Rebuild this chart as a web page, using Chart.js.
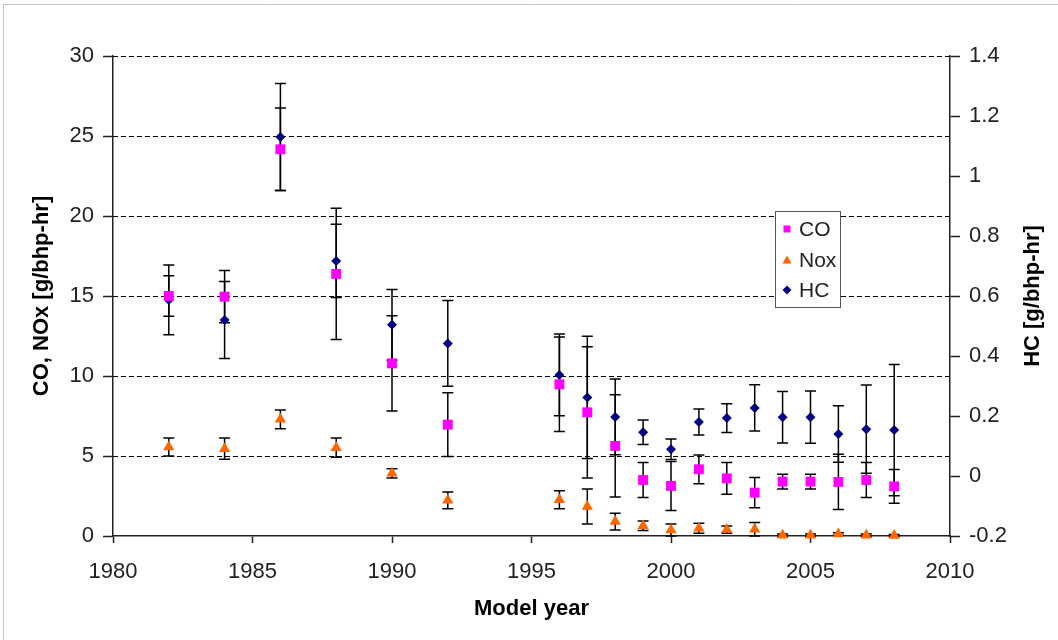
<!DOCTYPE html>
<html><head><meta charset="utf-8">
<script src="https://cdn.jsdelivr.net/npm/chart.js@4.4.0/dist/chart.umd.min.js"></script>
<style>html,body{margin:0;padding:0;background:#fff;overflow:hidden}canvas{display:block}</style>
</head><body>
<canvas id="c" width="1058" height="640"></canvas>
<script>
// ---- data ----
const years = [1982,1984,1986,1988,1990,1992,1996,1997,1998,1999,2000,2001,2002,2003,2004,2005,2006,2007,2008];
const coValues = [15.0,14.96,24.17,16.38,10.79,6.96,9.48,7.73,5.63,3.5,3.13,4.17,3.6,2.71,3.4,3.4,3.38,3.5,3.1];
const coErrors = [1.26,1.63,2.58,4.1,2.98,1.99,2.95,4.1,3.2,1.09,1.53,0.9,0.99,0.95,0.46,0.46,1.73,1.1,1.06];
const noxValues = [5.56,5.46,7.29,5.52,3.92,2.23,2.27,1.84,0.9,0.64,0.375,0.48,0.4,0.42,0.05,0.05,0.12,0.05,0.03];
const noxErrors = [0.56,0.67,0.58,0.6,0.29,0.52,0.56,1.09,0.52,0.3,0.375,0.31,0.23,0.42,0.08,0.08,0.08,0.08,0.06];
const hcValues = [0.587,0.52,1.13,0.717,0.504,0.442,0.337,0.262,0.197,0.146,0.089,0.18,0.193,0.227,0.196,0.196,0.14,0.156,0.153];
const hcErrors = [0.116,0.128,0.178,0.122,0.118,0.143,0.136,0.204,0.126,0.041,0.034,0.043,0.048,0.077,0.086,0.087,0.094,0.147,0.219];
const seriesNames = ['CO','Nox','HC'];
const xRange = [1980, 2010, 5];
const leftRange = [0, 30, 5];
const rightRange = [-0.2, 1.4, 0.2];
const xTitle = 'Model year';
const leftTitle = 'CO, NOx [g/bhp-hr]';
const rightTitle = 'HC [g/bhp-hr]';

const FONT = "'Liberation Sans', Arial, sans-serif";
Chart.defaults.font.family = FONT;
Chart.defaults.color = '#222';

const toPts = vals => years.map((x, i) => ({x: x, y: vals[i]}));

const errorBarPlugin = {
  id: 'errorBars',
  beforeDatasetsDraw(chart) {
    const ctx = chart.ctx;
    const ca = chart.chartArea;
    const ys = chart.scales.y;
    // dashed gridlines from the left axis
    ctx.save();
    ctx.strokeStyle = '#000';
    ctx.lineWidth = 1;
    ctx.setLineDash([5, 3]);
    ys.ticks.forEach(t => {
      if (t.value === leftRange[0]) return;
      const y = Math.round(ys.getPixelForValue(t.value)) + 0.5;
      ctx.beginPath(); ctx.moveTo(ca.left, y); ctx.lineTo(ca.right, y); ctx.stroke();
    });
    ctx.restore();
    // error bars
    ctx.save();
    ctx.strokeStyle = '#000';
    ctx.lineWidth = 1.5;
    chart.data.datasets.forEach((ds, i) => {
      const meta = chart.getDatasetMeta(i);
      const xs = chart.scales[meta.xAxisID];
      const yScale = chart.scales[meta.yAxisID];
      ds.data.forEach((p, j) => {
        const e = ds.errors[j];
        const x = xs.getPixelForValue(p.x);
        const y1 = yScale.getPixelForValue(p.y + e);
        const y2 = yScale.getPixelForValue(p.y - e);
        ctx.beginPath();
        ctx.moveTo(x, y1); ctx.lineTo(x, y2);
        ctx.moveTo(x - 5.5, y1); ctx.lineTo(x + 5.5, y1);
        ctx.moveTo(x - 5.5, y2); ctx.lineTo(x + 5.5, y2);
        ctx.stroke();
      });
    });
    ctx.restore();
  },
  beforeDraw(chart) {
    const ctx = chart.ctx;
    ctx.save();
    ctx.fillStyle = '#fff';
    ctx.fillRect(0, 0, chart.width, chart.height);
    ctx.strokeStyle = '#c4c4c4';
    ctx.lineWidth = 1;
    ctx.beginPath();
    ctx.moveTo(3.5, chart.height); ctx.lineTo(3.5, 4.5); ctx.lineTo(chart.width, 4.5);
    ctx.stroke();
    ctx.restore();
  },
  afterDraw(chart) {
    const ctx = chart.ctx;
    const ca = chart.chartArea;
    // right axis title (reads bottom to top)
    ctx.save();
    ctx.translate(1033, (ca.top + ca.bottom) / 2);
    ctx.rotate(-Math.PI / 2);
    ctx.font = 'bold 22px ' + FONT;
    ctx.fillStyle = '#000';
    ctx.textAlign = 'center';
    ctx.textBaseline = 'middle';
    ctx.fillText(rightTitle, 0, 0);
    ctx.restore();
    // legend
    ctx.save();
    const bx = 775.5, by = 211.5, bw = 65, bh = 96;
    ctx.fillStyle = '#fff';
    ctx.fillRect(bx, by, bw, bh);
    ctx.strokeStyle = '#555';
    ctx.lineWidth = 1;
    ctx.strokeRect(bx, by, bw, bh);
    const rowsY = [229, 260, 290];
    ctx.font = '21px ' + FONT;
    ctx.textBaseline = 'middle';
    ctx.textAlign = 'left';
    chart.data.datasets.forEach((ds, i) => {
      const cy = rowsY[i], cx = 787;
      ctx.fillStyle = ds.backgroundColor;
      ctx.beginPath();
      if (ds.pointStyle === 'rect') {
        ctx.rect(cx - 3.5, cy - 3.5, 7, 7);
      } else if (ds.pointStyle === 'triangle') {
        ctx.moveTo(cx, cy - 4.5); ctx.lineTo(cx + 4.5, cy + 3.5); ctx.lineTo(cx - 4.5, cy + 3.5); ctx.closePath();
      } else {
        ctx.moveTo(cx, cy - 4.5); ctx.lineTo(cx + 4.5, cy); ctx.lineTo(cx, cy + 4.5); ctx.lineTo(cx - 4.5, cy); ctx.closePath();
      }
      ctx.fill();
      ctx.fillStyle = '#222';
      ctx.fillText(ds.label, 799, cy + 1);
    });
    ctx.restore();
  }
};

const fmt = v => String(Math.round(v * 10) / 10);

new Chart(document.getElementById('c'), {
  type: 'scatter',
  data: {
    datasets: [
      {label: seriesNames[0], data: toPts(coValues), errors: coErrors, yAxisID: 'y',
       pointStyle: 'rect', pointRadius: 7, pointHoverRadius: 7, backgroundColor: '#FF00FF', borderColor: '#FF00FF', borderWidth: 0, clip: false},
      {label: seriesNames[1], data: toPts(noxValues), errors: noxErrors, yAxisID: 'y',
       pointStyle: 'triangle', pointRadius: 6.5, pointHoverRadius: 6.5, backgroundColor: '#FF6600', borderColor: '#FF6600', borderWidth: 0, clip: false},
      {label: seriesNames[2], data: toPts(hcValues), errors: hcErrors, yAxisID: 'y1',
       pointStyle: 'rectRot', pointRadius: 5, pointHoverRadius: 5, backgroundColor: '#000080', borderColor: '#000080', borderWidth: 0, clip: false}
    ]
  },
  options: {
    responsive: false,
    animation: false,
    devicePixelRatio: 1,
    layout: {padding: {top: 56, left: 0, right: 0, bottom: 0}},
    plugins: {legend: {display: false}, tooltip: {enabled: false}},
    scales: {
      x: {
        type: 'linear', position: 'bottom', min: xRange[0], max: xRange[1],
        ticks: {stepSize: xRange[2], font: {size: 22}, padding: 16, callback: v => String(v), color: '#222'},
        grid: {drawOnChartArea: false, drawTicks: true, tickLength: 7, tickColor: '#222', tickWidth: 1.5},
        border: {display: true, color: '#222', width: 1.5},
        title: {display: true, text: xTitle, color: '#000', font: {size: 22, weight: 'bold'}, padding: {top: 0, bottom: 18}},
        afterFit: s => { s.height = 104; }
      },
      y: {
        type: 'linear', position: 'left', min: leftRange[0], max: leftRange[1],
        ticks: {stepSize: leftRange[2], font: {size: 22}, padding: 9, callback: fmt, color: '#222'},
        grid: {drawOnChartArea: false, drawTicks: true, tickLength: 10, tickColor: '#222', tickWidth: 1.5},
        border: {display: true, color: '#222', width: 1.5},
        title: {display: true, text: leftTitle, color: '#000', font: {size: 22, weight: 'bold'}, padding: {top: 29, bottom: 0}},
        afterFit: s => { s.width = 113; }
      },
      y1: {
        type: 'linear', position: 'right', min: rightRange[0], max: rightRange[1],
        ticks: {stepSize: rightRange[2], font: {size: 22}, padding: 9, callback: fmt, color: '#222'},
        grid: {drawOnChartArea: false, drawTicks: true, tickLength: 10, tickColor: '#222', tickWidth: 1.5},
        border: {display: true, color: '#222', width: 1.5},
        afterFit: s => { s.width = 108; }
      }
    }
  },
  plugins: [errorBarPlugin]
});
</script>
</body></html>
